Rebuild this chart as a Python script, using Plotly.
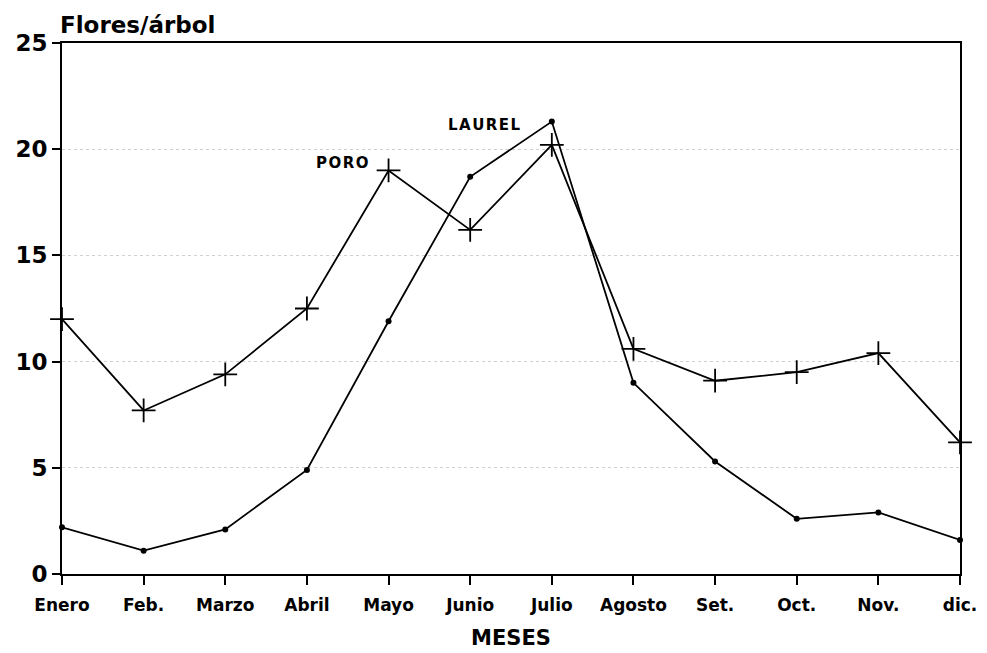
import plotly.graph_objects as go

meses = ["Enero", "Feb.", "Marzo", "Abril", "Mayo", "Junio", "Julio",
         "Agosto", "Set.", "Oct.", "Nov.", "dic."]
laurel = [2.2, 1.1, 2.1, 4.9, 11.9, 18.7, 21.3, 9.0, 5.3, 2.6, 2.9, 1.6]
poro = [12.0, 7.7, 9.4, 12.5, 19.0, 16.2, 20.2, 10.6, 9.1, 9.5, 10.4, 6.2]
y_ticks = [0, 5, 10, 15, 20, 25]

xi = list(range(len(meses)))
font = dict(family="DejaVu Sans, Liberation Sans, sans-serif", color="black", weight="bold")

fig = go.Figure()
fig.add_trace(go.Scatter(
    x=xi, y=poro, mode="lines+markers", name="PORO",
    line=dict(color="black", width=1.8),
    marker=dict(symbol="cross-thin", size=17, line=dict(color="black", width=1.8)),
    cliponaxis=False,
))
fig.add_trace(go.Scatter(
    x=xi, y=laurel, mode="lines+markers", name="LAUREL",
    line=dict(color="black", width=1.8),
    marker=dict(symbol="circle", size=6, color="black"),
    cliponaxis=False,
))

fig.add_annotation(x=5.18, y=21.15, text="L\u200aA\u200aU\u200aR\u200aE\u200aL", showarrow=False,
                   font=dict(size=15, **font))
fig.add_annotation(x=3.43, y=19.35, text="P\u200aO\u200aR\u200aO", showarrow=False,
                   font=dict(size=15, **font))
fig.add_annotation(x=0, xref="paper", xanchor="left", y=1, yref="paper", yanchor="bottom",
                   xshift=-4, yshift=3, text="Flores/árbol", showarrow=False,
                   font=dict(size=23, **font))

fig.update_layout(
    width=979, height=645,
    margin=dict(l=54, r=27, t=35, b=79),
    paper_bgcolor="white", plot_bgcolor="white",
    showlegend=False,
    xaxis=dict(
        range=[0, 11], tickmode="array", tickvals=xi, ticktext=meses,
        automargin=False,
        showgrid=False, zeroline=False,
        showline=True, mirror=True, linecolor="black", linewidth=2,
        ticks="outside", ticklen=9, tickwidth=2, tickcolor="black",
        ticklabelstandoff=6,
        tickfont=dict(size=17, **font),
        title=dict(text="MESES", font=dict(size=21, **font), standoff=16),
    ),
    yaxis=dict(
        range=[0, 25], tickmode="array", tickvals=y_ticks,
        automargin=False,
        showgrid=True, gridcolor="#d0d0d0", griddash="dot", gridwidth=1,
        zeroline=False,
        showline=True, mirror=True, linecolor="black", linewidth=2,
        ticks="outside", ticklen=8, tickwidth=2, tickcolor="black",
        tickfont=dict(size=23, **font),
    ),
)

fig.write_html("out.html")
